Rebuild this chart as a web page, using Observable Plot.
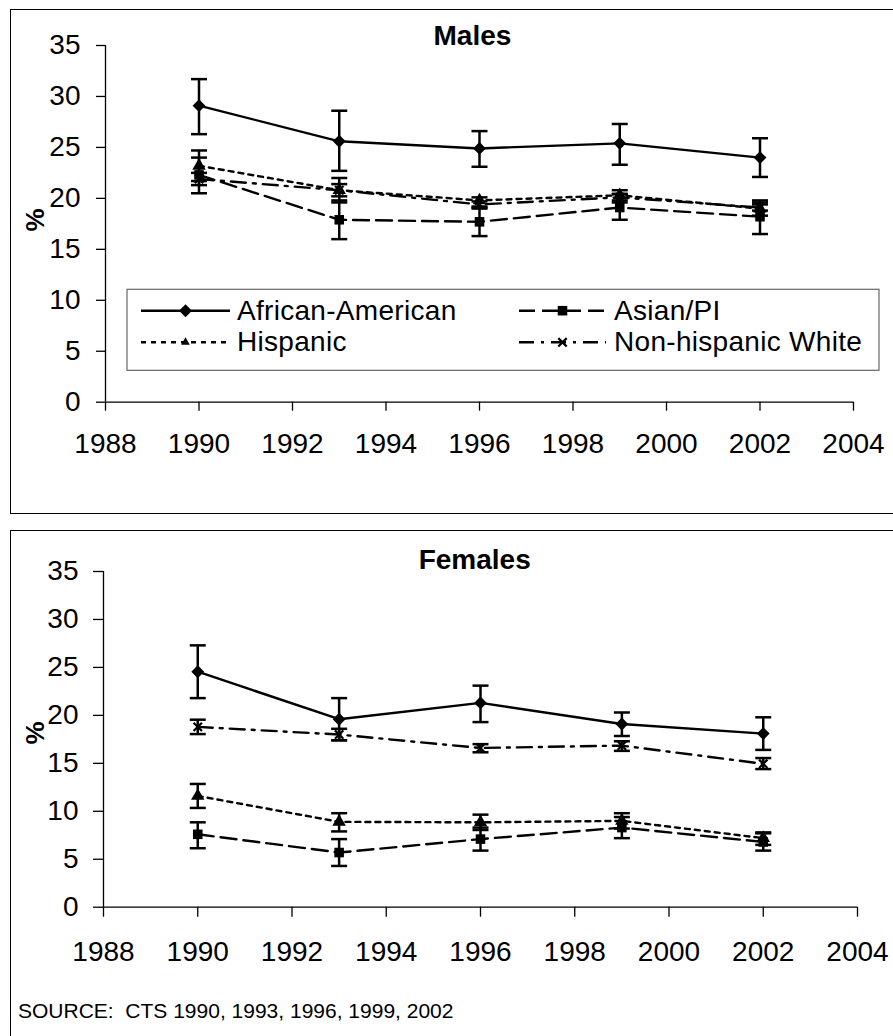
<!DOCTYPE html>
<html><head><meta charset="utf-8">
<script src="https://cdn.jsdelivr.net/npm/d3@7"></script>
<script src="https://cdn.jsdelivr.net/npm/@observablehq/plot@0.6"></script>
<style>
html,body{margin:0;padding:0;background:#fff;}
#page{position:relative;width:893px;height:1036px;overflow:hidden;background:#fff;font-family:"Liberation Sans",Arial,sans-serif;}
.panel{position:absolute;border:1.4px solid #000;box-sizing:border-box;}
#p1{left:9.5px;top:8.6px;width:900px;height:505px;}
#p2{left:9.5px;top:530px;width:900px;height:600px;}
#c1,#c2,#overlay{position:absolute;left:0;}
#c1{top:0}
#c2{top:520px}
#overlay{top:0}
</style></head><body><div id="page">
<div class="panel" id="p1"></div><div class="panel" id="p2"></div>
<div id="c1"></div><div id="c2"></div>
<svg id="overlay" width="893" height="1036"></svg>
</div>
<script>
// ---- data ----
const years = [1990, 1993, 1996, 1999, 2002];
const groups = ["African-American", "Asian/PI", "Hispanic", "Non-hispanic White"];
const xTicks = [1988, 1990, 1992, 1994, 1996, 1998, 2000, 2002, 2004];
const yTicks = [0, 5, 10, 15, 20, 25, 30, 35];
const panelTitles = ["Males", "Females"];
const sourceText = "SOURCE:  CTS 1990, 1993, 1996, 1999, 2002";

// Males
const maleAA    = [29.1, 25.6, 24.9, 25.4, 24.0];
const maleAALo  = [26.3, 22.7, 23.1, 23.3, 22.1];
const maleAAHi  = [31.7, 28.6, 26.6, 27.3, 25.9];
const maleAsian   = [22.3, 17.9, 17.7, 19.1, 18.2];
const maleAsianLo = [20.5, 16.0, 16.3, 17.9, 16.5];
const maleAsianHi = [24.0, 19.8, 19.1, 20.4, 19.8];
const maleHisp   = [23.2, 20.8, 19.8, 20.3, 19.0];
const maleHispLo = [21.7, 19.6, 19.2, 19.6, 18.3];
const maleHispHi = [24.7, 22.0, 20.1, 20.8, 19.6];
const maleNHW   = [21.9, 20.8, 19.4, 20.1, 19.1];
const maleNHWLo = [21.3, 20.2, 19.0, 19.8, 18.8];
const maleNHWHi = [22.5, 21.4, 19.7, 20.45, 19.4];

// Females
const femAA    = [24.55, 19.6, 21.3, 19.1, 18.1];
const femAALo  = [21.8, 17.4, 19.3, 17.85, 16.4];
const femAAHi  = [27.3, 21.8, 23.1, 20.3, 19.8];
const femAsian   = [7.6, 5.7, 7.1, 8.3, 6.8];
const femAsianLo = [6.15, 4.3, 5.9, 7.2, 5.9];
const femAsianHi = [8.85, 7.1, 8.3, 9.4, 7.7];
const femHisp   = [11.6, 8.9, 8.85, 9.0, 7.2];
const femHispLo = [10.35, 7.9, 8.05, 8.2, 6.5];
const femHispHi = [12.85, 9.8, 9.65, 9.8, 7.8];
const femNHW   = [18.8, 18.0, 16.6, 16.85, 14.95];
const femNHWLo = [18.05, 17.4, 16.15, 16.3, 14.4];
const femNHWHi = [19.55, 18.6, 17.0, 17.3, 15.55];

// ---- build tables ----
function rowsFor(series) {
  const out = [];
  series.forEach(([g, v, lo, hi]) => years.forEach((yr, i) => out.push({group: g, year: yr, value: v[i], lo: lo[i], hi: hi[i]})));
  return out;
}
const maleRows = rowsFor([
  [groups[0], maleAA, maleAALo, maleAAHi],
  [groups[1], maleAsian, maleAsianLo, maleAsianHi],
  [groups[2], maleHisp, maleHispLo, maleHispHi],
  [groups[3], maleNHW, maleNHWLo, maleNHWHi]
]);
const femRows = rowsFor([
  [groups[0], femAA, femAALo, femAAHi],
  [groups[1], femAsian, femAsianLo, femAsianHi],
  [groups[2], femHisp, femHispLo, femHispHi],
  [groups[3], femNHW, femNHWLo, femNHWHi]
]);

// ---- styles ----
const FONT = '"Liberation Sans", Arial, Helvetica, sans-serif';
const styleOf = {
  "African-American":   {dash: null,        symbol: "diamond2", r: 5.8, fill: "black", stroke: "none", sw: 0},
  "Asian/PI":           {dash: "16,7",      symbol: "square",   r: 5.4, fill: "black", stroke: "none", sw: 0},
  "Hispanic":           {dash: "5,5",       symbol: "triangle", r: 5.0, fill: "black", stroke: "none", sw: 0},
  "Non-hispanic White": {dash: "15,7,3,7",  symbol: "times",    r: 3.9, fill: "none",  stroke: "black", sw: 2.2}
};
const capSymbol = {draw(ctx) { ctx.moveTo(-8, 0); ctx.lineTo(8, 0); }};

function chart(rows, o) {
  const marks = [
    Plot.ruleX([1988], {stroke: "black", strokeWidth: 1.3}),
    Plot.ruleY([0], {stroke: "black", strokeWidth: 1.3}),
    Plot.axisY({ticks: yTicks, tickSize: o.yTickSize, tickPadding: o.yPad, fontSize: 28, strokeWidth: 1.3, label: null, fill: "black"}),
    Plot.axisX({ticks: xTicks, tickFormat: d => String(d), tickSize: o.xTickSize, tickPadding: o.xPad, fontSize: 28, strokeWidth: 1.3, label: null, fill: "black"})
  ];
  for (const g of groups) {
    const s = styleOf[g];
    const d = rows.filter(r => r.group === g);
    marks.push(Plot.line(d, {x: "year", y: "value", stroke: "black", strokeWidth: 2.4, strokeDasharray: s.dash || undefined}));
  }
  for (const g of groups) {
    const s = styleOf[g];
    const d = rows.filter(r => r.group === g);
    marks.push(Plot.ruleX(d, {x: "year", y1: "lo", y2: "hi", stroke: "black", strokeWidth: 2.5}));
    marks.push(Plot.dot(d, {x: "year", y: "lo", symbol: capSymbol, stroke: "black", fill: "none", strokeWidth: 2.5}));
    marks.push(Plot.dot(d, {x: "year", y: "hi", symbol: capSymbol, stroke: "black", fill: "none", strokeWidth: 2.5}));
    marks.push(Plot.dot(d, {x: "year", y: "value", symbol: s.symbol, r: s.r, fill: s.fill, stroke: s.stroke, strokeWidth: s.sw}));
  }
  return Plot.plot({
    width: 893, height: o.height,
    marginTop: o.mt, marginBottom: o.mb, marginLeft: o.ml, marginRight: o.mr,
    style: {fontFamily: FONT, color: "black", background: "transparent", overflow: "visible"},
    x: {domain: [1988, 2004]},
    y: {domain: [0, 35]},
    marks
  });
}

document.getElementById("c1").appendChild(chart(maleRows, {height: 520, mt: 45, mb: 118.3, ml: 105, mr: 40, yTickSize: 9, yPad: 16, xTickSize: 9, xPad: 22}));
document.getElementById("c2").appendChild(chart(femRows, {height: 516, mt: 51, mb: 129.3, ml: 103, mr: 36, yTickSize: 10, yPad: 15, xTickSize: 10, xPad: 24}));

// ---- overlay: titles, y label, legend, source ----
const ov = d3.select("#overlay").style("font-family", FONT);
ov.append("text").attr("x", 472.4).attr("y", 45).attr("text-anchor", "middle").attr("font-size", 28).attr("font-weight", "bold").text(panelTitles[0]);
ov.append("text").attr("x", 474.7).attr("y", 569).attr("text-anchor", "middle").attr("font-size", 28).attr("font-weight", "bold").text(panelTitles[1]);
[[43.5, 220], [43.5, 733]].forEach(([x, y]) => {
  ov.append("text").attr("transform", `translate(${x},${y}) rotate(-90)`).attr("text-anchor", "middle")
    .attr("font-size", 26).attr("font-weight", "bold").text("%");
});
ov.append("text").attr("x", 18).attr("y", 1018).attr("font-size", 21).attr("xml:space", "preserve").style("white-space", "pre").text(sourceText);

// legend
ov.append("rect").attr("x", 127).attr("y", 289.3).attr("width", 752).attr("height", 81)
  .attr("fill", "white").attr("stroke", "#666").attr("stroke-width", 1.2);
const legendPos = [
  {g: groups[0], x0: 141, x1: 230, y: 310.7, tx: 237},
  {g: groups[1], x0: 519, x1: 606, y: 310.7, tx: 614},
  {g: groups[2], x0: 141, x1: 230, y: 342.3, tx: 237},
  {g: groups[3], x0: 519, x1: 606, y: 342.3, tx: 614}
];
const symMap = {diamond2: d3.symbolDiamond2, square: d3.symbolSquare, triangle: d3.symbolTriangle, times: d3.symbolTimes};
legendPos.forEach(p => {
  const s = styleOf[p.g];
  const ln = ov.append("line").attr("x1", p.x0).attr("x2", p.x1).attr("y1", p.y).attr("y2", p.y)
    .attr("stroke", "black").attr("stroke-width", 2.4);
  if (s.dash) ln.attr("stroke-dasharray", s.dash);
  const rr = p.g === "Hispanic" ? 3.2 : s.r;
  ov.append("path").attr("transform", `translate(${(p.x0 + p.x1) / 2},${p.y})`)
    .attr("d", d3.symbol(symMap[s.symbol], Math.PI * rr * rr)())
    .attr("fill", s.fill).attr("stroke", s.stroke).attr("stroke-width", s.sw);
  ov.append("text").attr("x", p.tx).attr("y", p.y + 9).attr("font-size", 28).attr("letter-spacing", "0.3px").text(p.g);
});
</script>
</body></html>
